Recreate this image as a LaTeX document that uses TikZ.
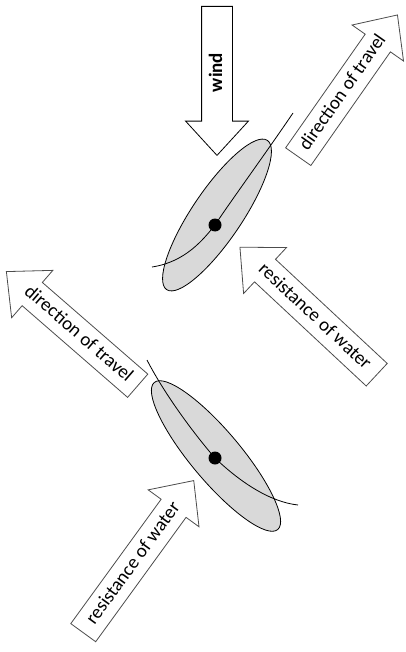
\documentclass[tikz,border=0pt]{standalone}
\usepackage{fontspec}
\setmainfont{Carlito}
\usetikzlibrary{shapes.arrows}

\begin{document}
\begin{tikzpicture}[x=0.5pt,y=-0.5pt,
   force/.style={single arrow, draw=black!70, fill=white, thin, anchor=tail,
      minimum height=#1, single arrow head extend=8pt, single arrow tip angle=85,
      text height=7pt, text depth=2pt, inner ysep=3pt, inner xsep=1pt,
      font=\fontsize{9.5}{11}\selectfont},
   back/.style={shape border rotate=180},
   hull/.style={draw, thin, fill=black!15},
   dot/.style={circle, fill, inner sep=0pt, minimum size=6.5pt}]
   \useasboundingbox (0,0) rectangle (406,652);
   % upper boat
   \coordinate (hullA) at (217,215);
   \draw[hull] (hullA) circle [x radius=45pt, y radius=12.5pt, rotate=56];
   \node[dot] (mastA) at (215,225) {};
   \draw[thin] (152,267) .. controls (185,262) and (203,240) .. (mastA.center)
      .. controls (228,205) and (268,150) .. (293,113);
   \node[force=74.5pt, back, draw=black, rotate=90, font=\fontsize{9.5}{11}\selectfont\bfseries] (wind) at (217,6) {wind};
   \node[force=86.5pt, rotate=55] (travelA) at (298,157) {direction of travel};
   \node[force=93.5pt, back, rotate=-43] (waterA) at (377,375) {resistance of water};
   % lower boat
   \coordinate (hullB) at (216,456);
   \draw[hull] (hullB) circle [x radius=48pt, y radius=12.5pt, rotate=-50];
   \node[dot] (mastB) at (215,458) {};
   \draw[thin] (147,360) .. controls (165,395) and (195,435) .. (mastB.center)
      .. controls (240,482) and (270,502) .. (298,505);
   \node[force=87pt, back, rotate=-41] (travelB) at (138,386) {direction of travel};
   \node[force=94pt, rotate=54] (waterB) at (83,633) {resistance of water};
\end{tikzpicture}
\end{document}
